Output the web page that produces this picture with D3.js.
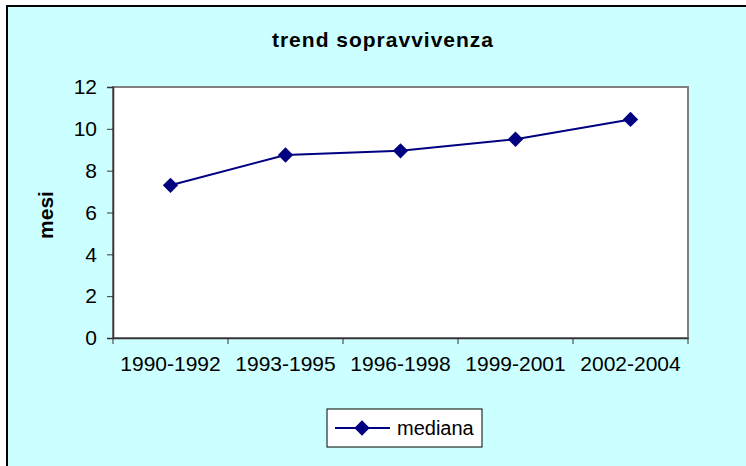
<!DOCTYPE html>
<html>
<head>
<meta charset="utf-8">
<script src="https://cdn.jsdelivr.net/npm/d3@7"></script>
<style>
  body { margin: 0; background: #fff; }
  svg { display: block; font-family: Arial, "Liberation Sans", sans-serif; }
</style>
</head>
<body>
<svg width="746" height="466"></svg>
<script>
var periods = ["1990-1992", "1993-1995", "1996-1998", "1999-2001", "2002-2004"];
var mediana = [7.3, 8.75, 8.95, 9.5, 10.45];
var yTicks = [0, 2, 4, 6, 8, 10, 12];

var margin = {top: 87, left: 113, right: 58, bottom: 128},
    width = 746 - margin.left - margin.right,
    height = 466 - margin.top - margin.bottom;

var svg = d3.select("svg");

// chart area background + frame (frame runs off the right/bottom edge)
svg.append("rect")
    .attr("x", 7).attr("y", 6)
    .attr("width", 760).attr("height", 480)
    .attr("fill", "#ccffff")
    .attr("stroke", "#000")
    .attr("stroke-width", 2);

svg.append("text")
    .attr("x", 383).attr("y", 47)
    .attr("text-anchor", "middle")
    .style("font-weight", "bold")
    .style("font-size", "21px")
    .style("letter-spacing", "1px")
    .text("trend sopravvivenza");

var g = svg.append("g")
    .attr("transform", "translate(" + margin.left + "," + margin.top + ")");

var x = d3.scaleBand().domain(periods).range([0, width]);
var y = d3.scaleLinear().domain([0, 12]).range([height, 0]);

g.append("rect")
    .attr("width", width).attr("height", height)
    .attr("fill", "#fff")
    .attr("stroke", "#808080")
    .attr("stroke-width", 2);

// y axis
var yAxis = g.append("g")
    .call(d3.axisLeft(y).tickValues(yTicks).tickSize(6).tickPadding(10));
yAxis.select(".domain").attr("stroke", "#333").attr("stroke-width", 1.5);
yAxis.selectAll(".tick line").attr("stroke", "#333");
yAxis.selectAll("text").style("font-size", "21px").attr("fill", "#000");

// x axis: ticks at the category boundaries
var xAxis = g.append("g")
    .attr("transform", "translate(0," + height + ")")
    .call(d3.axisBottom(x).tickSize(0).tickPadding(18));
xAxis.select(".domain").attr("stroke", "#333").attr("stroke-width", 1.5);
xAxis.selectAll("text").style("font-size", "21px").attr("fill", "#000");
xAxis.selectAll(".bound")
    .data(d3.range(periods.length + 1))
    .enter().append("line")
    .attr("class", "bound")
    .attr("x1", function(i) { return i * x.step(); })
    .attr("x2", function(i) { return i * x.step(); })
    .attr("y1", 0).attr("y2", 6)
    .attr("stroke", "#333");

svg.append("text")
    .attr("transform", "translate(53,215) rotate(-90)")
    .attr("text-anchor", "middle")
    .style("font-weight", "bold")
    .style("font-size", "21px")
    .text("mesi");

var line = d3.line()
    .x(function(d, i) { return x(periods[i]) + x.bandwidth() / 2; })
    .y(function(d) { return y(d); });

g.append("path")
    .attr("fill", "none")
    .attr("stroke", "#000080")
    .attr("stroke-width", 2)
    .attr("d", line(mediana));

var diamond = d3.symbol().type(d3.symbolDiamond2).size(150);

g.selectAll(".pt")
    .data(mediana)
    .enter().append("path")
    .attr("class", "pt")
    .attr("d", diamond)
    .attr("fill", "#000080")
    .attr("transform", function(d, i) {
      return "translate(" + (x(periods[i]) + x.bandwidth() / 2) + "," + y(d) + ")";
    });

// legend
var lg = svg.append("g").attr("transform", "translate(327,409)");
lg.append("rect")
    .attr("width", 155).attr("height", 38)
    .attr("fill", "#fff")
    .attr("stroke", "#000");
lg.append("line")
    .attr("x1", 8).attr("x2", 63).attr("y1", 19).attr("y2", 19)
    .attr("stroke", "#000080").attr("stroke-width", 2);
lg.append("path")
    .attr("d", diamond)
    .attr("fill", "#000080")
    .attr("transform", "translate(35,19)");
lg.append("text")
    .attr("x", 70).attr("y", 26)
    .style("font-size", "20px")
    .text("mediana");
</script>
</body>
</html>
